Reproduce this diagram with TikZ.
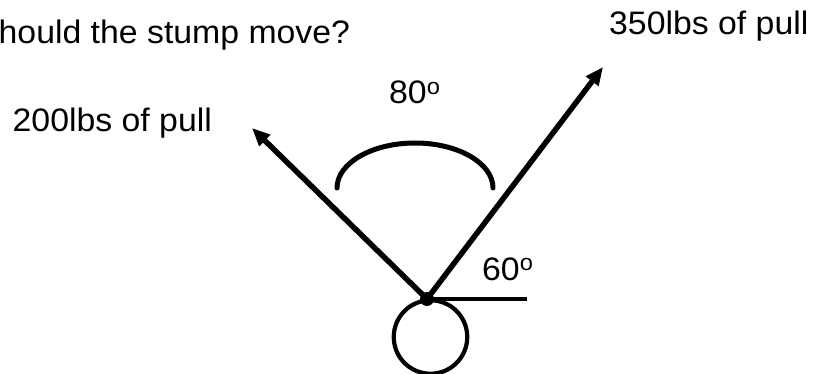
\documentclass[tikz,border=0pt]{standalone}
\usepackage{fontspec}
\setmainfont{Liberation Sans}
\usetikzlibrary{arrows.meta}
\newcommand\widetxt[1]{\scalebox{1.04}[1]{#1}}
\tikzset{
  lbl/.style={anchor=base west, inner sep=0pt, font=\fontsize{32.5}{38}\selectfont},
  force/.style={line width=5.5pt, -{Triangle[length=18pt,width=15pt]}},
  thick line/.style={line width=5pt, line cap=round},
}
\begin{document}
\begin{tikzpicture}[x=1pt,y=-1pt]
\useasboundingbox (0,0) rectangle (817,374);
% texts
\node[lbl] (q) at (-1.5,44) {\widetxt{hould the stump move?}};
\node[lbl] (f200) at (12.5,131.5) {\widetxt{200lbs of pull}};
\node[lbl] (f350) at (609,35) {\widetxt{350lbs of pull}};
\node[lbl] (a80) at (389,104) {\widetxt{80\textsuperscript{o}}};
\node[lbl] (a60) at (482,280) {\widetxt{60\textsuperscript{o}}};
% geometry
\coordinate (O) at (427,299);
\coordinate (tipL) at (252,128);
\coordinate (tipR) at (603,67);
\coordinate (hEnd) at (527,299);
\node[circle, draw, line width=4.2pt, minimum size=73.5pt, inner sep=0pt] (stump) at (430.5,337) {};
\draw[force] (O) -- (tipL);
\draw[force] (O) -- (tipR);
\draw[line width=4.7pt] (O) -- (hEnd);
\fill (O) circle[radius=7pt];
\draw[thick line] (337,188) arc[start angle=180, end angle=360, x radius=78, y radius=45];
\end{tikzpicture}
\end{document}
